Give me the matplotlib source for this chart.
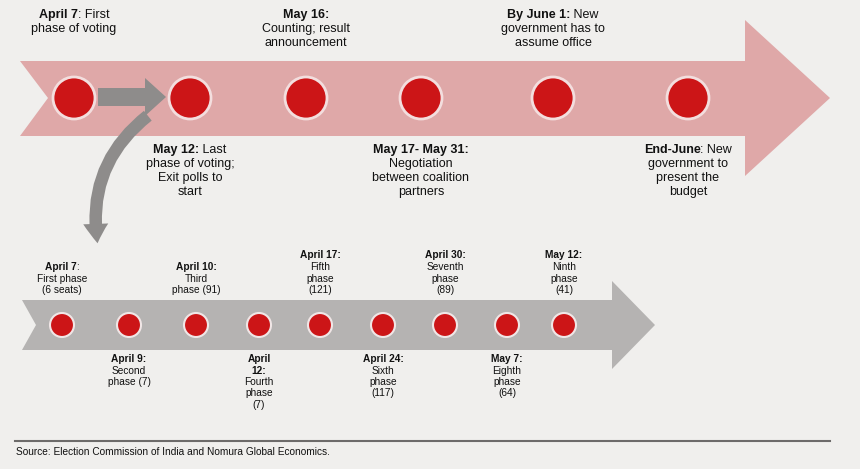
import matplotlib.pyplot as plt
from matplotlib.patches import Polygon, Circle, FancyArrowPatch

plt.rcParams['font.family'] = ['Liberation Sans Narrow', 'Liberation Sans', 'DejaVu Sans']

# top timeline: (bold part, rest of first line, other lines, above?)
top_events = [
    ("April 7", ": First", ["phase of voting"], True),
    ("May 12:", " Last", ["phase of voting;", "Exit polls to", "start"], False),
    ("May 16:", "", ["Counting; result", "announcement"], True),
    ("May 17- May 31:", "", ["Negotiation", "between coalition", "partners"], False),
    ("By June 1:", " New", ["government has to", "assume office"], True),
    ("End-June", ": New", ["government to", "present the", "budget"], False),
]
top_x = [74, 190, 306, 421, 553, 688]

# bottom timeline: voting phases
phase_events = [
    ("April 7", ":", ["First phase", "(6 seats)"], True),
    ("April 9:", "", ["Second", "phase (7)"], False),
    ("April 10:", "", ["Third", "phase (91)"], True),
    ("April", "", ["12:", "Fourth", "phase", "(7)"], False),
    ("April 17:", "", ["Fifth", "phase", "(121)"], True),
    ("April 24:", "", ["Sixth", "phase", "(117)"], False),
    ("April 30:", "", ["Seventh", "phase", "(89)"], True),
    ("May 7:", "", ["Eighth", "phase", "(64)"], False),
    ("May 12:", "", ["Ninth", "phase", "(41)"], True),
]
phase_x = [62, 129, 196, 259, 320, 383, 445, 507, 564]
bold_second_line = {3}  # "12:" is bold in "April 12:"

BG = '#f0efed'
fig = plt.figure(figsize=(8.6, 4.69), dpi=100, facecolor=BG)
ax = fig.add_axes([0, 0, 1, 1])
ax.set_xlim(0, 860)
ax.set_ylim(469, 0)
ax.axis('off')
ax.set_facecolor(BG)

# big arrows
ax.add_patch(Polygon([(20, 61), (745, 61), (745, 20), (830, 98), (745, 176),
                      (745, 136), (20, 136), (48, 98)], closed=True,
                     facecolor='#dfa8a8', edgecolor='none'))
ax.add_patch(Polygon([(22, 300), (612, 300), (612, 281), (655, 325), (612, 369),
                      (612, 350), (22, 350), (36, 325)], closed=True,
                     facecolor='#b5b3b2', edgecolor='none'))

# small gray arrows
ax.add_patch(Polygon([(98, 88), (145, 88), (145, 78), (166, 97), (145, 116),
                      (145, 106), (98, 106)], closed=True, facecolor='#8e8c8b', edgecolor='none'))
ax.add_patch(FancyArrowPatch((150, 114), (98, 246), connectionstyle='arc3,rad=0.3',
                             arrowstyle='simple,head_width=1.8,head_length=1.4,tail_width=0.9',
                             mutation_scale=10, color='#8e8c8b', lw=0))

renderer = fig.canvas.get_renderer()


def label(x, y, bold, rest, lines, size, dy, bold2=False):
    # first line: bold part + normal part centred together
    tb = ax.text(0, 0, bold, fontsize=size, fontweight='bold', color='#111111')
    tn = ax.text(0, 0, rest, fontsize=size, color='#111111')
    wb = tb.get_window_extent(renderer).width
    wn = tn.get_window_extent(renderer).width if rest else 0
    start = x - (wb + wn) / 2
    tb.set_position((start, y)); tb.set_va('center')
    tn.set_position((start + wb, y)); tn.set_va('center')
    for i, ln in enumerate(lines):
        ax.text(x, y + dy * (i + 1), ln, fontsize=size, ha='center', va='center',
                fontweight='bold' if (bold2 and i == 0) else 'normal', color='#111111')


for (b, r, ls, above), x in zip(top_events, top_x):
    ax.add_patch(Circle((x, 98), 21, facecolor='#cc1517', edgecolor='#f3dede', lw=2))
    y0 = 15 if above else 150
    label(x, y0, b, r, ls, 9, 14)

for i, ((b, r, ls, above), x) in enumerate(zip(phase_events, phase_x)):
    ax.add_patch(Circle((x, 325), 12, facecolor='#cc1517', edgecolor='#f0e6e6', lw=1.5))
    n = len(ls) + 1
    y0 = 290 - 11.5 * (n - 1) if above else 359
    label(x, y0, b, r, ls, 7.3, 11.5, bold2=(i in bold_second_line))

ax.plot([15, 830], [441, 441], color='#6d6b6a', lw=1.5)
ax.text(16, 452, "Source: Election Commission of India and Nomura Global Economics.",
        fontsize=7.3, va='center', color='#111111')

fig.savefig('out.png', dpi=100, facecolor=BG)
